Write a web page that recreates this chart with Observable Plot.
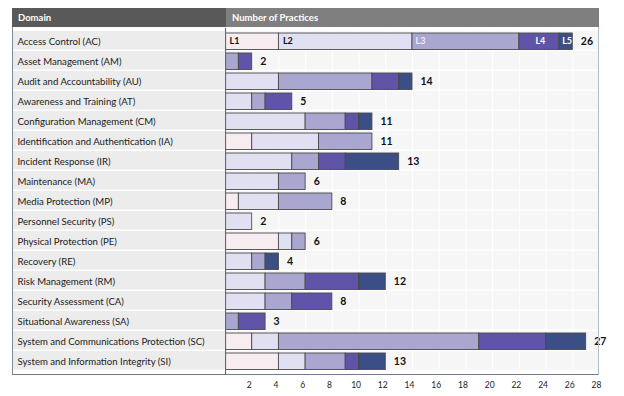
<!DOCTYPE html>
<html>
<head>
<meta charset="utf-8">
<script src="https://cdn.jsdelivr.net/npm/d3@7"></script>
<script src="https://cdn.jsdelivr.net/npm/@observablehq/plot@0.6"></script>
<style>
  html, body { margin: 0; padding: 0; background: #ffffff; }
  #wrap { position: relative; width: 624px; height: 396px; font-family: Lato, "Liberation Sans", sans-serif; }
  #hdr { position: absolute; left: 12px; top: 8px; width: 587px; height: 19px; display: flex; }
  #hdr div { color: #ffffff; font-weight: bold; font-size: 9.5px; line-height: 19px; padding-left: 6px; box-sizing: border-box; }
  #h1 { width: 214px; background: #595959; }
  #h2 { flex: 1; background: #7f7f7f; }
  #left { position: absolute; left: 12px; top: 27px; }
  #right { position: absolute; left: 225px; top: 27px; }
  #border { position: absolute; left: 12px; top: 27px; width: 587px; height: 348px; box-sizing: border-box;
            border-left: 1px solid #7d8a98; border-bottom: 1.5px solid #6f7e8e; border-right: 1.5px solid #b4bfca; pointer-events: none; }
</style>
</head>
<body>
<div id="wrap">
  <div id="hdr"><div id="h1">Domain</div><div id="h2">Number of Practices</div></div>
  <div id="left"></div>
  <div id="right"></div>
  <div id="border"></div>
</div>
<script>
const domains = [
  "Access Control (AC)",
  "Asset Management (AM)",
  "Audit and Accountability (AU)",
  "Awareness and Training (AT)",
  "Configuration Management (CM)",
  "Identification and Authentication (IA)",
  "Incident Response (IR)",
  "Maintenance (MA)",
  "Media Protection (MP)",
  "Personnel Security (PS)",
  "Physical Protection (PE)",
  "Recovery (RE)",
  "Risk Management (RM)",
  "Security Assessment (CA)",
  "Situational Awareness (SA)",
  "System and Communications Protection (SC)",
  "System and Information Integrity (SI)"
];
const levels = ["L1", "L2", "L3", "L4", "L5"];
const levelColors = ["#f7edf0", "#e1dff2", "#a9a6cf", "#5f54a7", "#3b4e85"];
const L1 = [4, 0, 0, 0, 0, 2, 0, 0, 1, 0, 4, 0, 0, 0, 0, 2, 4];
const L2 = [10, 0, 4, 2, 6, 5, 5, 4, 3, 2, 1, 2, 3, 3, 0, 2, 2];
const L3 = [8, 1, 7, 1, 3, 4, 2, 2, 4, 0, 1, 1, 3, 2, 1, 15, 3];
const L4 = [3, 1, 2, 2, 1, 0, 2, 0, 0, 0, 0, 0, 4, 3, 2, 5, 1];
const L5 = [1, 0, 1, 0, 1, 0, 4, 0, 0, 0, 0, 1, 2, 0, 0, 3, 2];
const totalLabels = [26, 2, 14, 5, 11, 11, 13, 6, 8, 2, 6, 4, 12, 8, 3, 27, 13];
const xTicks = [2, 4, 6, 8, 10, 12, 14, 16, 18, 20, 22, 24, 26, 28];

const series = [L1, L2, L3, L4, L5];
const table = domains.flatMap((d, i) =>
  levels.map((lv, j) => ({domain: d, level: lv, value: series[j][i]}))
).filter(r => r.value > 0);
const barEnds = domains.map((d, i) => series.reduce((s, arr) => s + arr[i], 0));
const acRows = table.filter(r => r.domain === domains[0]);

const font = "Lato, 'Liberation Sans', sans-serif";
const H = 369, MT = 1, MB = 22;

const left = Plot.plot({
  width: 213, height: H, marginTop: MT, marginBottom: MB, marginLeft: 0, marginRight: 0,
  y: {domain: domains, padding: 0, axis: null},
  style: {fontFamily: font, background: "transparent"},
  marks: [
    Plot.cell(domains, {y: d => d, fill: "#ececec", insetBottom: 1.5}),
    Plot.text(domains, {y: d => d, frameAnchor: "left", dx: 5, text: d => d, textAnchor: "start",
      fill: "#1a1a1a", fontSize: 9.6})
  ]
});
document.getElementById("left").appendChild(left);

const right = Plot.plot({
  width: 399, height: H, marginTop: MT, marginBottom: MB, marginLeft: 0, marginRight: 25,
  x: {domain: [0, 28], label: null},
  y: {domain: domains, padding: 0, axis: null},
  color: {domain: levels, range: levelColors},
  style: {fontFamily: font, fontSize: "8.5px", color: "#222", background: "transparent"},
  marks: [
    Plot.cell(domains, {y: d => d, fill: "#f6f6f6", insetBottom: 1.5}),
    Plot.gridX(xTicks, {stroke: "#ffffff", strokeOpacity: 1, strokeWidth: 1}),
    Plot.axisX(xTicks, {tickSize: 0, tickPadding: 7, dx: -3, label: null, fontSize: 8.5, fill: "#222"}),
    Plot.barX(table, {y: "domain", x: "value", fill: "level", stroke: "#4a4a4a", strokeWidth: 0.9,
      insetTop: 2, insetBottom: 1.5}),
    Plot.text(acRows, Plot.stackX1({y: "domain", x: "value",
      text: d => (d.level === "L1" || d.level === "L2") ? d.level : "",
      textAnchor: "start", dx: 4, fill: "#111", fontWeight: "bold", fontSize: 9})),
    Plot.text(acRows, Plot.stackX1({y: "domain", x: "value",
      text: d => d.level === "L3" ? d.level : "",
      textAnchor: "start", dx: 3, fill: "#eeedf8", fontWeight: "bold", fontSize: 9})),
    Plot.text(acRows, Plot.stackX({y: "domain", x: "value",
      text: d => (d.level === "L4" || d.level === "L5") ? d.level : "",
      dx: 1, fill: "#ffffff", fontWeight: "bold", fontSize: 9})),
    Plot.text(domains, {y: d => d, x: barEnds, text: totalLabels, textAnchor: "start", dx: 8,
      fill: "#111", fontWeight: "bold", fontSize: 10.5}),
    Plot.ruleX([0], {stroke: "#5a6a7c", strokeWidth: 1.2})
  ]
});
document.getElementById("right").appendChild(right);
</script>
</body>
</html>
